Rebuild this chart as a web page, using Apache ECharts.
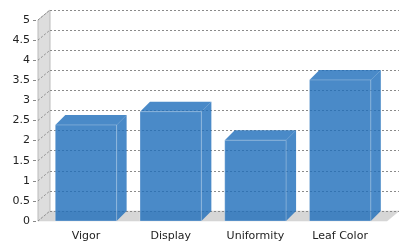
<!DOCTYPE html>
<html>
<head>
<meta charset="utf-8">
<script src="https://cdn.jsdelivr.net/npm/echarts@6/dist/echarts.min.js"></script>
<style>html,body{margin:0;padding:0;background:#fff}#c{width:410px;height:250px}</style>
</head>
<body>
<div id="c"></div>
<script>
var categories = ['Vigor', 'Display', 'Uniformity', 'Leaf Color'];
var values = [2.39, 2.72, 2.01, 3.51];
var yTicks = [0, 0.5, 1, 1.5, 2, 2.5, 3, 3.5, 4, 4.5, 5];

var WALL_DX = 12, WALL_DY = 10;
var BAR_DX = 10, BAR_DY = 10;
var FONT = 'DejaVu Sans';

var chart = echarts.init(document.getElementById('c'), null, {renderer: 'canvas'});

var option = {
  animation: false,
  backgroundColor: '#ffffff',
  grid: [
    {left: 43.6, right: 27.5, top: 20, bottom: 29},
    {left: 36, width: 2, top: 20, bottom: 29},
    {left: 50, right: 11, top: 10, bottom: 39}
  ],
  xAxis: [
    {gridIndex: 0, type: 'category', data: categories,
     axisLine: {show: false}, axisTick: {show: false},
     axisLabel: {fontFamily: FONT, fontSize: 11, color: '#222', margin: 10}},
    {gridIndex: 1, type: 'value', show: false, min: 0, max: 1},
    {gridIndex: 2, type: 'value', show: false, min: 0, max: 1}
  ],
  yAxis: [
    {gridIndex: 0, type: 'value', min: 0, max: 5, show: false},
    {gridIndex: 1, type: 'value', min: 0, max: 5, interval: 0.5,
     axisLine: {show: false},
     axisTick: {show: true, length: 3, lineStyle: {color: '#888'}},
     splitLine: {show: false},
     axisLabel: {fontFamily: FONT, fontSize: 11, color: '#222', margin: 6}},
    {gridIndex: 2, type: 'value', min: 0, max: 5, interval: 0.5, z: 5,
     axisLine: {show: false}, axisTick: {show: false}, axisLabel: {show: false},
     splitLine: {show: true, lineStyle: {color: '#8a8a8a', width: 1, type: [2, 2]}}}
  ],
  series: [
    {
      type: 'custom', xAxisIndex: 2, yAxisIndex: 2, z: 1,
      data: [[0, 0]],
      silent: true,
      renderItem: function (params, api) {
        var b0 = api.coord([0, 0]);
        var b5 = api.coord([0, 5]);
        var r0 = api.coord([1, 0]);
        var wall = [[b0[0] - WALL_DX, b5[1] + WALL_DY], [b5[0], b5[1]], [b0[0], b0[1]], [b0[0] - WALL_DX, b0[1] + WALL_DY]];
        var floor = [[b0[0] - WALL_DX, b0[1] + WALL_DY], [b0[0], b0[1]], [r0[0], r0[1]], [r0[0] - WALL_DX, r0[1] + WALL_DY]];
        return {type: 'group', children: [
          {type: 'polygon', shape: {points: wall}, style: {fill: '#dddddd', stroke: '#bbbbbb', lineWidth: 1}},
          {type: 'polygon', shape: {points: floor}, style: {fill: '#d6d6d6', stroke: '#d0d0d0', lineWidth: 0.5}}
        ]};
      }
    },
    {
      type: 'custom', xAxisIndex: 2, yAxisIndex: 2, z: 6,
      data: yTicks.map(function (t) { return [0, t]; }),
      silent: true,
      renderItem: function (params, api) {
        var p = api.coord([0, api.value(1)]);
        return {type: 'line', shape: {x1: p[0] - WALL_DX, y1: p[1] + WALL_DY, x2: p[0], y2: p[1]},
                style: {stroke: '#8a8a8a', lineWidth: 1, lineDash: [2, 2]}};
      }
    },
    {
      type: 'custom', xAxisIndex: 0, yAxisIndex: 0, z: 10,
      data: values.map(function (v, i) { return [i, v]; }),
      renderItem: function (params, api) {
        var i = api.value(0), v = api.value(1);
        var top = api.coord([i, v]);
        var base = api.coord([i, 0]);
        var w = api.size([1, 0])[0] * 0.724;
        var xl = top[0] - w / 2, xr = top[0] + w / 2;
        var yt = top[1], yb = base[1];
        var fill = 'rgba(29,109,186,0.8)';
        return {type: 'group', children: [
          {type: 'polygon', shape: {points: [[xl, yt], [xl + BAR_DX, yt - BAR_DY], [xr + BAR_DX, yt - BAR_DY], [xr, yt]]},
           style: {fill: fill}},
          {type: 'polygon', shape: {points: [[xr, yt], [xr + BAR_DX, yt - BAR_DY], [xr + BAR_DX, yb - BAR_DY], [xr, yb]]},
           style: {fill: fill}},
          {type: 'rect', shape: {x: xl, y: yt, width: w, height: yb - yt},
           style: {fill: fill, stroke: 'rgba(255,255,255,0.25)', lineWidth: 1}}
        ]};
      }
    }
  ]
};
chart.setOption(option);
</script>
</body>
</html>
